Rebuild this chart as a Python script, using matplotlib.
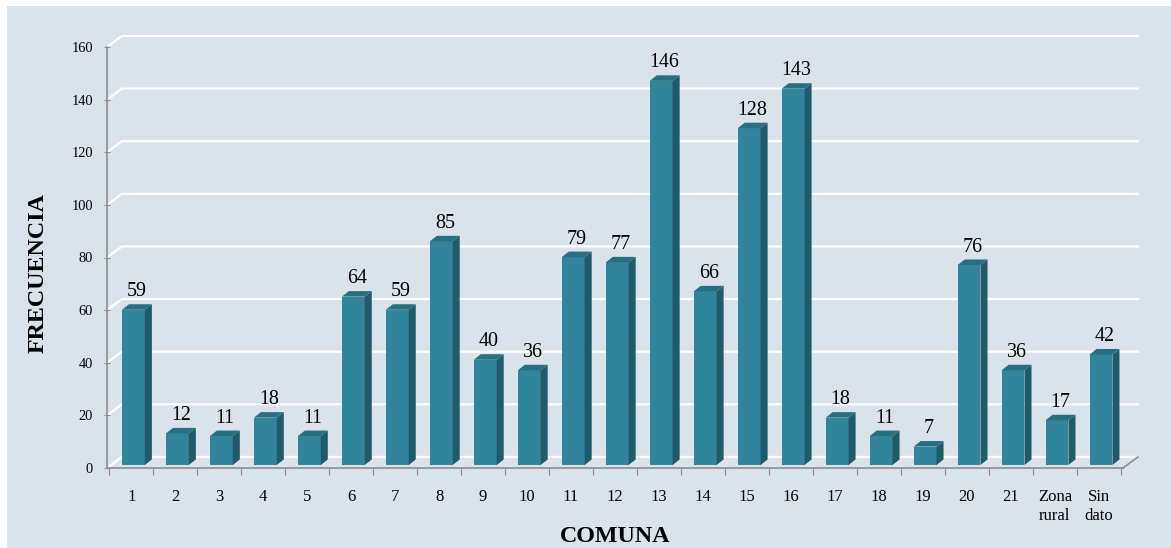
import matplotlib
matplotlib.use("Agg")
import matplotlib.pyplot as plt
from matplotlib.patches import Polygon, Rectangle

plt.rcParams["font.family"] = ["Liberation Serif", "DejaVu Serif"]

comunas = ["1", "2", "3", "4", "5", "6", "7", "8", "9", "10", "11", "12",
           "13", "14", "15", "16", "17", "18", "19", "20", "21",
           "Zona\nrural", "Sin\ndato"]
frecuencia = [59, 12, 11, 18, 11, 64, 59, 85, 40, 36, 79, 77,
              146, 66, 128, 143, 18, 11, 7, 76, 36, 17, 42]
y_ticks = [0, 20, 40, 60, 80, 100, 120, 140, 160]

BG = "#DAE3EC"
FRONT = "#31849B"
SIDE = "#215A69"
TOP = "#28707F"
AXIS = "#8C8C8C"

# depth of the back wall and of each bar, in data units
WALL_DX, WALL_DY = 0.34, 4.2
BAR_DX, BAR_DY = 0.16, 2.1
BAR_X0, BAR_Y0, BAR_W = -0.21, 1.14, 0.52

fig = plt.figure(figsize=(11.71, 5.48), dpi=100)
fig.patch.set_facecolor("white")
fig.add_artist(Rectangle((7 / 1171, 0), 1, 1 - 6 / 548, transform=fig.transFigure,
                         facecolor=BG, edgecolor="none", zorder=0))

ax = fig.add_axes([107 / 1171, 80 / 548, 1016 / 1171, 421 / 548])
ax.set_facecolor("none")
xl, xr = -0.55, len(comunas) - 0.45
ax.set_xlim(xl, xr)
ax.set_ylim(0, 160)

# back wall gridlines with the slanted side-wall part
for y in y_ticks:
    ax.plot([xl, xl + WALL_DX, xr + WALL_DX], [y, y + WALL_DY, y + WALL_DY],
            color="white", lw=1.6, clip_on=False, zorder=1)
ax.plot([xr, xr + WALL_DX], [0, WALL_DY], color=AXIS, lw=1.2, clip_on=False, zorder=1)

# bars drawn as front / side / top faces
for i, v in enumerate(frecuencia):
    x0 = i + BAR_X0
    x1 = x0 + BAR_W
    y0 = BAR_Y0
    y1 = BAR_Y0 + v
    front = Polygon([(x0, y0), (x1, y0), (x1, y1), (x0, y1)], closed=True,
                    facecolor=FRONT, edgecolor="none", zorder=3, clip_on=False)
    side = Polygon([(x1, y0), (x1 + BAR_DX, y0 + BAR_DY), (x1 + BAR_DX, y1 + BAR_DY),
                    (x1, y1)], closed=True, facecolor=SIDE, edgecolor="none",
                   zorder=3, clip_on=False)
    top = Polygon([(x0, y1), (x1, y1), (x1 + BAR_DX, y1 + BAR_DY),
                   (x0 + BAR_DX, y1 + BAR_DY)], closed=True, facecolor=TOP,
                  edgecolor="none", zorder=3, clip_on=False)
    for p in (front, side, top):
        ax.add_patch(p)
    ax.text(x0 + BAR_W / 2 + BAR_DX / 2, y1 + BAR_DY + 3.0, str(v),
            ha="center", va="baseline", fontsize=14.4, color="black", zorder=4)

for s in ("top", "right"):
    ax.spines[s].set_visible(False)
for s in ("left", "bottom"):
    ax.spines[s].set_color(AXIS)
    ax.spines[s].set_linewidth(1.2)
    ax.spines[s].set_zorder(2)

ax.set_yticks(y_ticks)
ax.set_yticklabels([str(t) for t in y_ticks])
ax.tick_params(axis="y", direction="inout", length=4, color=AXIS, labelsize=10.4, pad=8)

ax.set_xticks([i - 0.5 for i in range(len(comunas) + 1)])
ax.set_xticklabels([])
ax.set_xticks(range(len(comunas)), minor=True)
ax.set_xticklabels(comunas, minor=True, linespacing=1.3)
ax.tick_params(axis="x", which="major", direction="out", length=5, color=AXIS)
ax.tick_params(axis="x", which="minor", length=0, labelsize=12, pad=15)
for lbl in ax.get_xticklabels(minor=True):
    lbl.set_verticalalignment("top")

fig.text(615 / 1171, 1 - 537 / 548, "COMUNA", ha="center", va="center",
         fontsize=17.3, fontweight="bold")
fig.text(38 / 1171, 1 - 273 / 548, "FRECUENCIA", ha="center", va="center",
         rotation=90, fontsize=17.3, fontweight="bold")

fig.savefig("out.png", dpi=100)
